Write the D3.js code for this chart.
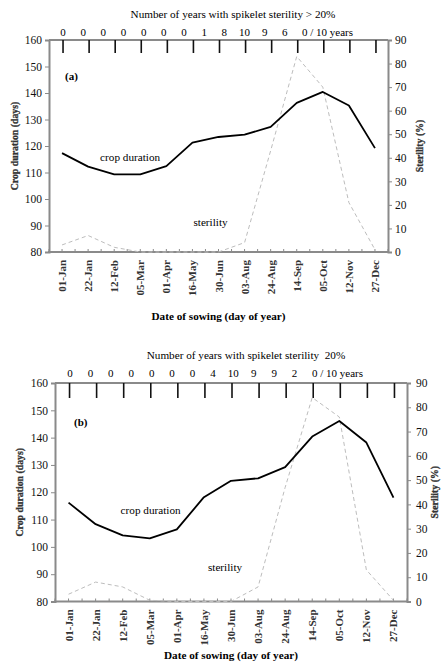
<!DOCTYPE html>
<html>
<head>
<meta charset="utf-8">
<script src="https://cdn.jsdelivr.net/npm/d3@7"></script>
<style>
  html, body { margin: 0; padding: 0; background: #fff; }
  svg { display: block; }
  svg text { font-family: "Liberation Serif", "Times New Roman", "DejaVu Serif", serif; white-space: pre; }
</style>
</head>
<body>
<svg id="chart" width="441" height="662"></svg>
<script>
// Sowing dates shared by both panels
const sowingDates = ["01-Jan","22-Jan","12-Feb","05-Mar","01-Apr","16-May","30-Jun",
                     "03-Aug","24-Aug","14-Sep","05-Oct","12-Nov","27-Dec"];

// Panel (a)
const durationA  = [117.3, 112.2, 109.3, 109.3, 112.4, 121.3, 123.4, 124.3, 127.2, 136.3, 140.4, 135.3, 119.2];
const sterilityA = [3, 7, 2, 0, 0, 0, 0, 4, 43, 83, 70, 21, 1];
const yearsA     = [0, 0, 0, 0, 0, 0, 0, 1, 8, 10, 9, 6, 0];

// Panel (b)
const durationB  = [116.2, 108.3, 104.2, 103.1, 106.4, 118.2, 124.2, 125.1, 129.2, 140.4, 146.1, 138.2, 118.0];
const sterilityB = [3, 8, 6, 0.5, 0, 0, 0, 6, 47, 84, 76, 13, 0.5];
const yearsB     = [0, 0, 0, 0, 0, 0, 0, 4, 10, 9, 9, 2, 0];

// Axis ticks
const durationTicks  = [80, 90, 100, 110, 120, 130, 140, 150, 160];
const sterilityTicks = [0, 10, 20, 30, 40, 50, 60, 70, 80, 90];

const AXIS_GREY = "#8a8a8a";
const SERIF = "'Liberation Serif', 'Times New Roman', 'DejaVu Serif', serif";
const svg = d3.select("#chart");

function drawPanel(p) {
  const g = svg.append("g").attr("font-family", SERIF);
  const x = d3.scaleBand().domain(sowingDates).range([p.left, p.right]).padding(0);
  const cx = d => x(d) + x.bandwidth() / 2;
  const yL = d3.scaleLinear().domain([80, 160]).range([p.bottom, p.top]);
  const yR = d3.scaleLinear().domain([0, 90]).range([p.bottom, p.top]);
  const xTop = d3.scalePoint().domain(d3.range(sowingDates.length)).range(p.topLabelRange);
  const last = p.years.length - 1;

  // top title and yearly counts
  g.append("text").attr("x", p.titleX).attr("y", p.titleY)
    .attr("text-anchor", "middle").attr("font-size", 11.2)
    .attr("xml:space", "preserve")
    .text(p.title);
  g.selectAll(".yr").data(p.years).join("text")
    .attr("x", (d, i) => xTop(i)).attr("y", p.titleY + 18)
    .attr("font-size", 11)
    .attr("text-anchor", (d, i) => i === last ? "start" : "middle")
    .attr("dx", (d, i) => i === last ? -3 : 0)
    .text((d, i) => i === last ? d + " / 10 years" : d);

  // top border
  g.append("line").attr("x1", p.left).attr("x2", p.right).attr("y1", p.top).attr("y2", p.top)
    .attr("stroke", AXIS_GREY).attr("stroke-width", 2);

  // left and right axes
  const axL = g.append("g").attr("transform", `translate(${p.left},0)`)
    .call(d3.axisLeft(yL).tickValues(durationTicks).tickSize(4).tickPadding(3));
  const axR = g.append("g").attr("transform", `translate(${p.right},0)`)
    .call(d3.axisRight(yR).tickValues(sterilityTicks).tickSize(4).tickPadding(p.rightPad));
  [axL, axR].forEach(a => {
    a.attr("font-family", SERIF);
    a.select(".domain").attr("stroke", AXIS_GREY).attr("stroke-width", 2);
    a.selectAll(".tick line").attr("stroke", AXIS_GREY).attr("stroke-width", 1);
    a.selectAll(".tick text").attr("font-size", 11.5).attr("fill", "#111");
  });

  // bottom axis with small inner ticks at centres and band edges
  const halfTicks = [];
  sowingDates.forEach(d => { halfTicks.push(x(d)); halfTicks.push(cx(d)); });
  halfTicks.push(p.right);
  g.selectAll(".bt").data(halfTicks).join("line")
    .attr("x1", d => d).attr("x2", d => d)
    .attr("y1", p.bottom).attr("y2", p.bottom - 3)
    .attr("stroke", AXIS_GREY).attr("stroke-width", 1);
  g.append("line").attr("x1", p.left - 1).attr("x2", p.right + 1)
    .attr("y1", p.bottom).attr("y2", p.bottom)
    .attr("stroke", AXIS_GREY).attr("stroke-width", 2);

  // rotated date labels
  g.selectAll(".dl").data(sowingDates).join("text")
    .attr("transform", d => `translate(${cx(d) + 4},${p.bottom + 8}) rotate(-90)`)
    .attr("text-anchor", "end").attr("font-size", 11).attr("font-weight", "bold")
    .attr("fill", "#333")
    .text(d => d);

  // top tick marks hanging from the border
  g.selectAll(".tt").data(sowingDates).join("line")
    .attr("x1", d => cx(d) + 1).attr("x2", d => cx(d) + 1)
    .attr("y1", p.top).attr("y2", p.top + p.topTick)
    .attr("stroke", "#111").attr("stroke-width", 1.6);

  // sterility (dashed, right axis)
  const ster = d3.line().x((d, i) => cx(sowingDates[i])).y(d => yR(d));
  g.append("path").datum(p.sterility).attr("d", ster)
    .attr("fill", "none").attr("stroke", "#bdbdbd").attr("stroke-width", 1)
    .attr("stroke-dasharray", "4,3");

  // crop duration (solid, left axis)
  const dur = d3.line().x((d, i) => cx(sowingDates[i])).y(d => yL(d));
  g.append("path").datum(p.duration).attr("d", dur)
    .attr("fill", "none").attr("stroke", "#000").attr("stroke-width", 1.8)
    .attr("stroke-linejoin", "round");

  // annotations
  g.append("text").attr("x", p.left + p.tagDx).attr("y", yL(p.tagAt)).attr("font-size", 11)
    .attr("font-weight", "bold").text(p.tag);
  g.append("text").attr("x", cx(sowingDates[1]) + p.cropDx).attr("y", yL(p.cropAt))
    .attr("font-size", 11.2).text("crop duration");
  g.append("text").attr("x", cx(sowingDates[5]) + p.sterDx).attr("y", yR(p.sterAt))
    .attr("font-size", 11.2).text("sterility");

  // axis titles
  g.append("text")
    .attr("transform", `translate(${p.leftTitleX},${(p.top + p.bottom) / 2}) rotate(-90)`)
    .attr("text-anchor", "middle").attr("font-size", 9.8).attr("font-weight", "bold")
    .attr("fill", "#333").attr("stroke", "#333").attr("stroke-width", 0.3)
    .text("Crop duration (days)");
  g.append("text")
    .attr("transform", `translate(${p.rightTitleX},${(p.top + p.bottom) / 2}) rotate(-90)`)
    .attr("text-anchor", "middle").attr("font-size", 9.8).attr("font-weight", "bold")
    .attr("fill", "#333").attr("stroke", "#333").attr("stroke-width", 0.3)
    .text("Sterility (%)");
  g.append("text").attr("x", (p.left + p.right) / 2).attr("y", p.xTitleY)
    .attr("text-anchor", "middle").attr("font-size", 11.2).attr("font-weight", "bold")
    .text("Date of sowing (day of year)");
}

drawPanel({
  left: 49, right: 388, top: 40, bottom: 252,
  title: "Number of years with spikelet sterility > 20%",
  titleX: 233, titleY: 18, topLabelRange: [63, 305],
  years: yearsA, duration: durationA, sterility: sterilityA,
  rightPad: 3, topTick: 13,
  tag: "(a)", tagDx: 16, tagAt: 144.8,
  cropDx: 12, cropAt: 114.5,
  sterDx: 1, sterAt: 11,
  leftTitleX: 18, rightTitleX: 423, xTitleY: 320
});

drawPanel({
  left: 55, right: 407, top: 383, bottom: 601.5,
  title: "Number of years with spikelet sterility  20%",
  titleX: 246, titleY: 359, topLabelRange: [70, 315],
  years: yearsB, duration: durationB, sterility: sterilityB,
  rightPad: 5, topTick: 15,
  tag: "(b)", tagDx: 19, tagAt: 144.2,
  cropDx: 25, cropAt: 112,
  sterDx: 4, sterAt: 12.5,
  leftTitleX: 23, rightTitleX: 438, xTitleY: 659
});
</script>
</body>
</html>
